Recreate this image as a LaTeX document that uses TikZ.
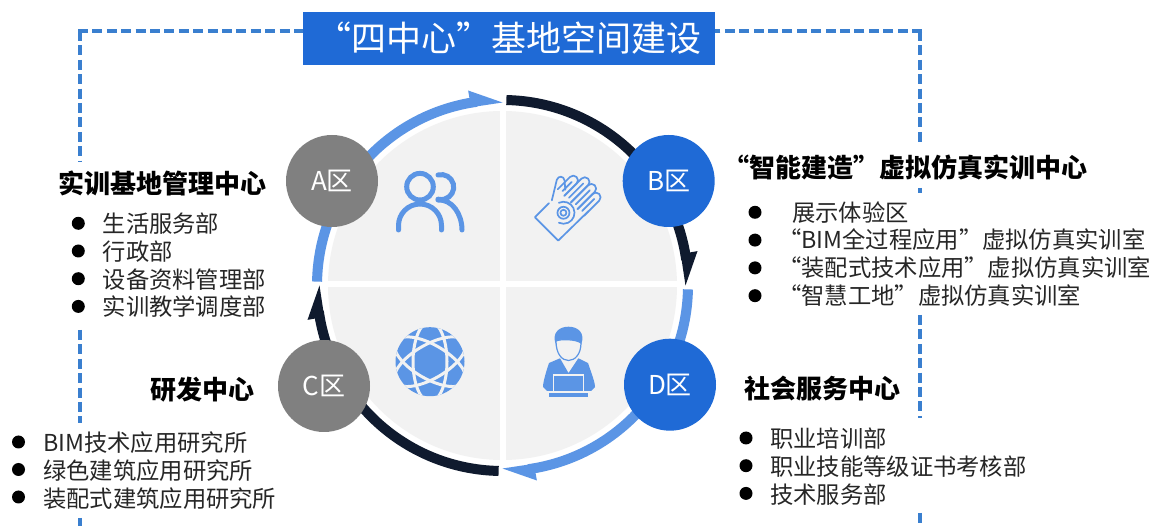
\documentclass[tikz,border=0pt]{standalone}
\usepackage{fontspec}
\setmainfont{Noto Sans CJK SC}
\usepackage{tikz}
\usetikzlibrary{positioning}

\definecolor{ringblue}{HTML}{5B95E5}
\definecolor{ringdark}{HTML}{0F1A2E}
\definecolor{zoneblue}{HTML}{1F6AD6}
\definecolor{zonegray}{HTML}{808080}
\definecolor{quadgray}{HTML}{F2F2F2}
\definecolor{framedash}{HTML}{3A7FCF}

\tikzset{
  frameline/.style={draw=framedash,line width=4pt,dash pattern=on 10pt off 4.4pt},
  zone/.style={circle,minimum size=92pt,inner sep=0pt,text=white,font=\fontsize{26pt}{26pt}\selectfont},
  headtext/.style={anchor=west,inner sep=0pt,font=\fontsize{26pt}{26pt}\selectfont\bfseries},
  itemtext/.style={anchor=west,inner sep=0pt,font=\fontsize{23.3pt}{24pt}\selectfont,text=black!85},
  itemdot/.style={circle,fill=black,minimum size=13pt,inner sep=0pt},
  iconline/.style={draw=ringblue,line width=5pt,line cap=round},
  gloveline/.style={draw=ringblue,line width=1.7pt,line cap=round,line join=round},
}

\begin{document}
\begin{tikzpicture}[x=1pt,y=1pt]
  \useasboundingbox (0,0) rectangle (1152,-526);
  \fill[white] (0,0) rectangle (1152,-526);

  % dashed frame
  \draw[frameline] (78,-31) -- (303,-31);
  \draw[frameline] (922,-31) -- (714,-31);
  \foreach \xa/\ya/\yb in {80/31/162,80/330/423,80/518/526,920/31/143,920/188/193,920/315/418,920/513/526}
    \draw[frameline] (\xa,-\ya) -- (\xa,-\yb);

  \node[fill=zoneblue,text=white,minimum width=412pt,minimum height=53pt,inner sep=0pt,
    font=\fontsize{35pt}{35pt}\selectfont] (title) at (508.5,-38.5) {“四中心”基地空间建设};

  % ring
  \begin{scope}[shift={(502.5,-285.5)}]
    \foreach \a/\ringcol in {180/ringblue,90/ringdark,0/ringblue,-90/ringdark} {
      \draw[\ringcol,line width=10pt] ({\a-1.2}:185.5) arc[start angle=\a-1.2,end angle=\a-82,radius=185.5];
      \fill[\ringcol] ({\a-90}:183) -- ({\a-80}:198) -- ({\a-80}:181) -- cycle;
    }
    \fill[quadgray] (0,0) circle[radius=174.5];
    \fill[white] (-3,-180) rectangle (3,180);
    \fill[white] (-180,-1.5) rectangle (180,4.5);
  \end{scope}

  \node[zone,fill=zonegray] (zonea) at (332,-181) {A区};
  \node[zone,fill=zoneblue] (zoneb) at (668.7,-181) {B区};
  \node[zone,fill=zonegray] (zonec) at (324,-386) {C区};
  \node[zone,fill=zoneblue] (zoned) at (670,-384.7) {D区};

  % people
  \draw[iconline] (420,-186.7) circle[radius=13.3];
  \draw[iconline] (398.5,-230) -- (398.5,-225.5) arc[start angle=180,end angle=0,radius=21.5] -- (441.5,-230);
  \draw[iconline] (438,-175) arc[start angle=105,end angle=-105,radius=12.5];
  \draw[iconline] (438,-200) .. controls (452,-199) and (462,-214) .. (462,-230);

  % glove
  \begin{scope}[shift={(566.7,-206.7)},rotate=45,gloveline]
    \draw (-10,15) -- (-30,15) -- (-30,-18) -- (12,-18.5);
    \draw (-6,15) -- (12,26) .. controls (16,28) and (20,24) .. (17,20) -- (11,13);
    \foreach \yy/\ll in {14/28,4.7/35,-4.7/35,-14/32} {
      \draw (6,\yy+4.7) -- (\ll-4.7,\yy+4.7) arc[start angle=90,end angle=-90,radius=4.7] -- (6,\yy-4.7);
      \draw (8,\yy) -- (\ll-7,\yy);
    }
    \draw (-6.6,-2) circle[radius=6];
    \draw (-6.6,-2) circle[radius=3];
    \draw (-2.8,8.3) arc[start angle=70,end angle=-160,radius=11];
  \end{scope}

  % atom
  \begin{scope}
    \fill[ringblue] (430,-361.7) circle[radius=34.5];
    \clip (430,-361.7) circle[radius=34.5];
    \foreach \rr in {90,30,150}
      \draw[quadgray,line width=3pt] (430,-361.7) ellipse[x radius=40,y radius=17,rotate=\rr];
  \end{scope}

  % operator
  \fill[ringblue] (556,-345) .. controls (551,-332) and (560,-326.7) .. (568.5,-326.7)
    .. controls (577,-326.7) and (586,-332) .. (581,-345) -- cycle;
  \filldraw[fill=quadgray,draw=ringblue,line width=1.2pt] (556,-341) .. controls (560,-339) and (576,-339) .. (581,-343)
    .. controls (581,-354) and (575,-360.5) .. (568.5,-360.5) .. controls (562,-360.5) and (556,-354) .. (556,-341);
  \fill[ringblue] (560,-358.3) -- (568.5,-373) -- (578.3,-358.3) -- (588,-363) .. controls (591,-372) and (595,-382) .. (595,-387)
    -- (591,-391) -- (547,-391) -- (543,-387) .. controls (543,-382) and (546,-372) .. (549,-363) -- cycle;
  \filldraw[fill=ringblue,draw=quadgray,line width=1.6pt] (553.3,-375) rectangle (583.3,-391.7);
  \fill[ringblue] (549,-393.3) rectangle (588.3,-396.7);

  % labels
  \node[headtext] (heada) at (58,-183) {实训基地管理中心};
  \foreach \txt [count=\i] in {生活服务部,行政部,设备资料管理部,实训教学调度部} {
    \node[itemdot] (dota\i) at (78.3,{-223.3-27.7*(\i-1)}) {};
    \node[itemtext] (itema\i) at (102.5,{-223.8-27.7*(\i-1)}) {\txt};
  }
  \node[headtext] (headb) at (723,-167) {“智能建造”虚拟仿真实训中心};
  \foreach \txt [count=\i] in {展示体验区,“BIM全过程应用”虚拟仿真实训室,“装配式技术应用”虚拟仿真实训室,“智慧工地”虚拟仿真实训室} {
    \node[itemdot] (dotb\i) at (755,{-212.3-27.8*(\i-1)}) {};
    \node[itemtext] (itemb\i) at (\ifnum\i=1 792\else 778\fi,{-212.3-27.8*(\i-1)}) {\txt};
  }
  \node[headtext] (headc) at (150,-390) {研发中心};
  \foreach \txt [count=\i] in {BIM技术应用研究所,绿色建筑应用研究所,装配式建筑应用研究所} {
    \node[itemdot] (dotc\i) at (18.5,{-442-27.5*(\i-1)}) {};
    \node[itemtext] (itemc\i) at (43,{-443-28*(\i-1)}) {\txt};
  }
  \node[headtext] (headd) at (744,-389) {社会服务中心};
  \foreach \txt [count=\i] in {职业培训部,职业技能等级证书考核部,技术服务部} {
    \node[itemdot] (dotd\i) at (746,{-438-27.7*(\i-1)}) {};
    \node[itemtext] (itemd\i) at (770,{-439-28*(\i-1)}) {\txt};
  }
\end{tikzpicture}
\end{document}
